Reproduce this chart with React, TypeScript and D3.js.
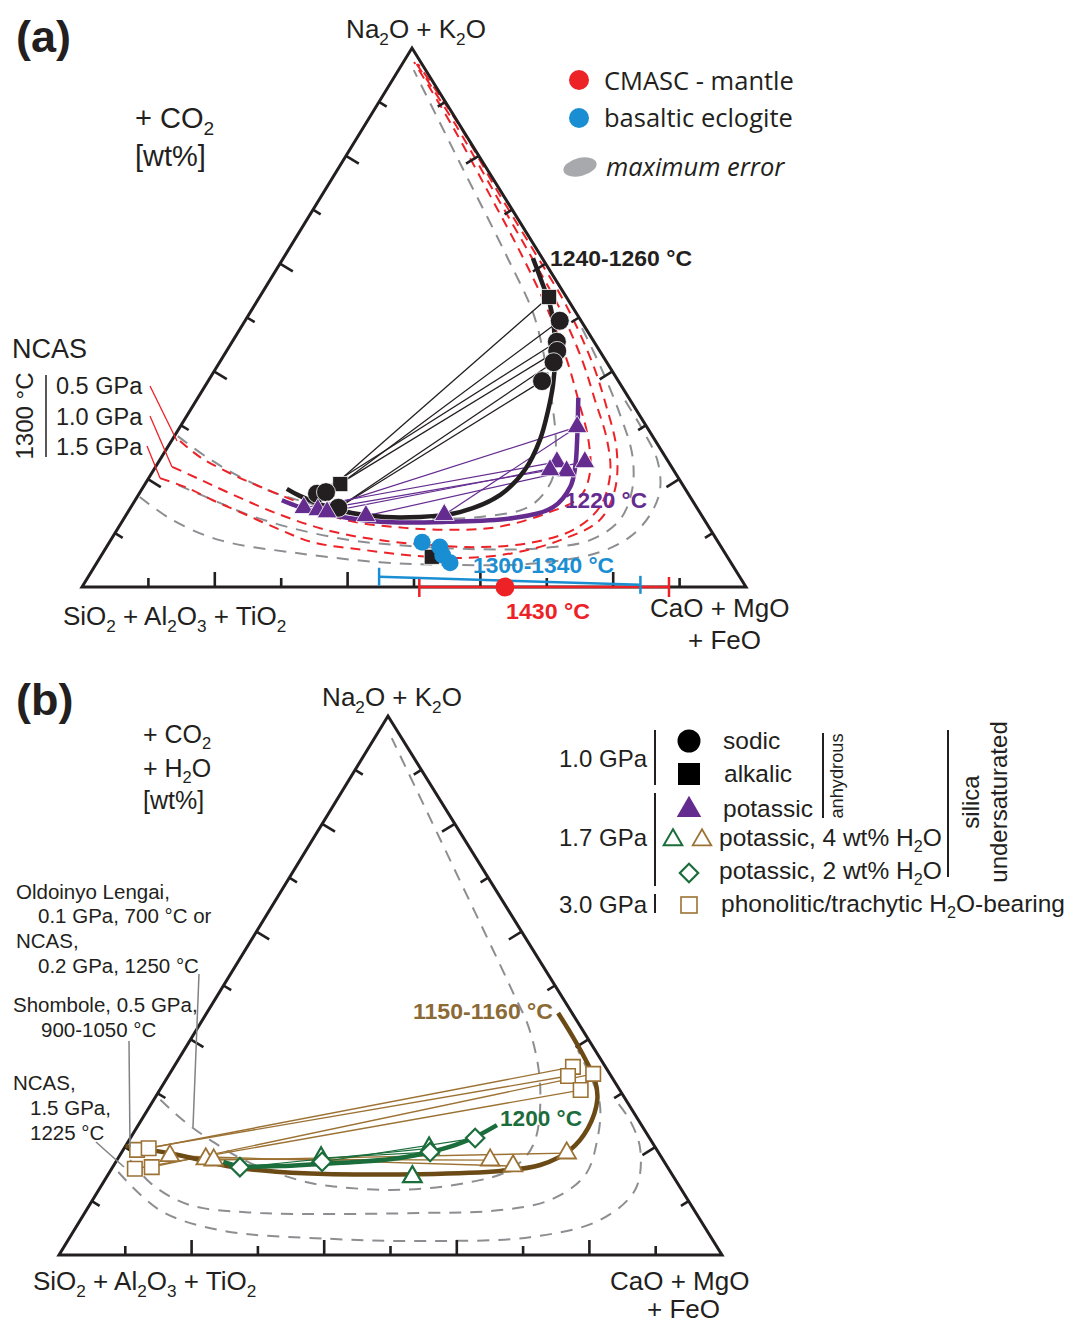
import React from 'react';
import * as d3 from 'd3';

// ternary point: [CaO+MgO+FeO wt%, Na2O+K2O wt%]; SiO2+Al2O3+TiO2 is the rest
type TP = [number, number];

const FONT = "'Liberation Sans', Arial, sans-serif";
const INK = '#231f20';
const RED = '#ec2227';
const BLUE = '#1a8ed2';
const PURPLE = '#652c90';
const GREY = '#8c8e91';
const BROWN_DARK = '#6b4a16';
const BROWN = '#9c7234';
const GREEN = '#1b6d3b';

// ---------- panel (a) ----------
const aBlackCurve: TP[] = [[37.6, 61.0], [40.8, 57.0], [44.5, 52.3], [47.4, 47.7], [50.3, 42.1], [52.3, 37.5], [53.9, 32.8], [55.4, 27.3], [55.9, 21.7], [54.5, 17.1], [50.0, 13.9], [44.4, 13.0], [36.8, 13.2], [30.1, 14.7], [24.4, 16.9], [21.8, 18.2]];
const aPurpleCurve: TP[] = [[57.3, 35.1], [61.0, 27.3], [63.2, 22.3], [64.3, 18.6], [63.6, 14.8], [58.6, 12.8], [49.0, 12.1], [38.9, 12.1], [30.7, 13.4], [25.5, 14.8], [22.1, 16.1]];

// NCAS 1300 °C, 0.5 / 1.0 / 1.5 GPa
const aNcas05: TP[] = [[1.3, 27.1], [5.8, 24.1], [11.8, 21.1], [17.6, 18.6], [25.1, 15.6], [33.7, 12.4], [41.9, 11.1], [49.7, 10.6], [57.0, 11.1], [63.2, 13.7], [66.7, 16.7], [66.0, 21.1], [62.7, 27.3], [57.5, 34.7], [52.1, 42.1], [44.6, 51.4], [35.6, 61.6], [25.3, 72.7], [13.1, 85.7], [1.6, 97.4]];
const aNcas10: TP[] = [[2.5, 22.3], [7.3, 20.2], [13.6, 17.4], [23.2, 13.4], [32.2, 10.4], [40.5, 8.7], [48.5, 7.8], [56.3, 7.4], [63.4, 8.2], [68.7, 10.6], [70.6, 14.8], [69.2, 20.8], [65.5, 27.3], [60.0, 34.7], [54.4, 42.1], [45.7, 52.3], [36.9, 61.6], [26.2, 72.7], [13.7, 85.7], [2.0, 97.2]];
const aNcas15: TP[] = [[1.7, 20.2], [6.7, 18.4], [11.7, 16.1], [16.9, 13.9], [24.6, 10.6], [30.6, 8.3], [38.9, 6.9], [47.0, 5.8], [54.7, 5.4], [61.8, 6.3], [67.7, 8.7], [71.8, 12.4], [71.3, 18.0], [67.9, 25.4], [62.1, 33.8], [56.1, 41.7], [46.9, 52.3], [37.8, 61.6], [26.8, 72.7], [14.2, 85.7], [2.4, 97.0]];

const aGrey1: TP[] = [[0.5, 28.0], [6.8, 24.1], [13.3, 20.6], [19.5, 17.8], [24.9, 16.0], [33.4, 13.9], [44.5, 12.8], [53.5, 13.0], [60.0, 15.0], [60.9, 19.8], [58.3, 26.3], [53.5, 34.7], [48.8, 42.1], [42.7, 50.8], [33.8, 61.0], [17.7, 78.8], [2.3, 95.9]];
const aGrey2: TP[] = [[5.1, 18.9], [13.0, 15.6], [18.1, 13.5], [26.3, 10.9], [36.0, 8.7], [45.6, 7.6], [56.4, 7.0], [65.4, 7.2], [72.2, 8.7], [74.8, 12.4], [73.9, 18.0], [70.7, 24.5], [65.2, 31.9], [57.5, 41.2], [50.1, 49.5]];
const aGrey3: TP[] = [[0.4, 16.7], [7.5, 12.4], [16.4, 8.7], [29.2, 6.3], [42.6, 4.6], [53.4, 4.1], [65.3, 4.3], [74.4, 6.3], [77.9, 9.3], [78.9, 13.4], [78.1, 18.0], [74.9, 23.6], [70.0, 29.1], [64.5, 34.7]];

const aSodic: TP[] = [[47.4, 49.4], [48.9, 45.5], [49.8, 43.8], [50.3, 41.7], [50.3, 38.2], [26.8, 17.3], [28.0, 17.6], [31.3, 14.7]];
const aAlkalic: TP[] = [[43.6, 53.8], [29.4, 19.1], [49.9, 5.6]];
const aPotassic: TP[] = [[59.8, 29.7], [60.0, 23.2], [64.2, 23.2], [62.3, 21.5], [59.7, 21.7], [26.1, 14.7], [28.4, 14.3], [30.0, 13.9], [36.2, 13.2], [47.9, 13.4]];
const aEclogite: TP[] = [[47.1, 8.3], [50.2, 7.4], [51.4, 5.9], [53.2, 4.5]];
const aEclogiteErr: TP[] = [[43.8, 1.9], [83.9, 0.4]];
const aMantle: TP = [63.7, 0];
const aMantleErr: TP[] = [[50.8, 0], [88.4, 0]];

const aBlackTies: [TP, TP][] = [
  [aAlkalic[0], aSodic[6]], [aSodic[0], aAlkalic[1]], [aSodic[1], aSodic[5]],
  [aSodic[2], aSodic[6]], [aSodic[3], aSodic[7]], [aSodic[4], aSodic[7]],
];
const aPurpleTies: [TP, TP][] = [
  [aPotassic[0], aPotassic[6]], [aPotassic[0], aPotassic[9]], [aPotassic[1], aPotassic[5]],
  [aPotassic[2], aPotassic[7]], [aPotassic[3], aPotassic[8]], [aPotassic[4], aPotassic[6]],
];

// ---------- panel (b) ----------
const bBrownCurve: TP[] = [[0, 20.2], [8.6, 18.6], [18.1, 16.3], [25.7, 15.4], [33.9, 15.0], [47.0, 15.0], [58.8, 15.6], [64.3, 16.7], [67.4, 19.5], [68.1, 23.6], [66.9, 28.8], [64.7, 32.5], [61.2, 36.5], [57.1, 40.8], [53.0, 44.9]];
const bGreenCurve: TP[] = [[16.2, 17.3], [19.1, 16.5], [25.1, 16.5], [31.0, 16.9], [36.8, 17.3], [42.5, 18.0], [46.5, 19.1], [49.6, 20.4], [51.9, 21.9], [54.1, 24.1]];

const bGrey1: TP[] = [[1.0, 28.8], [6.3, 25.0], [12.8, 21.0], [20.3, 17.1], [30.7, 13.5], [36.1, 12.6], [45.4, 12.1], [54.9, 13.4], [60.2, 15.8], [61.4, 20.4], [57.1, 31.2], [50.3, 41.7], [44.4, 48.6], [22.6, 73.3], [2.6, 95.9]];
const bGrey2: TP[] = [[2.0, 17.6], [7.1, 13.4], [12.7, 10.2], [17.4, 8.7], [26.5, 7.8], [37.6, 7.6], [50.6, 7.8], [61.4, 8.2], [69.0, 10.2], [72.0, 14.8], [70.6, 21.3], [67.8, 27.8], [63.5, 33.4], [59.4, 38.0]];
const bGrey3: TP[] = [[1.3, 15.4], [11.1, 8.3], [22.0, 4.6], [39.4, 3.0], [54.7, 2.6], [69.4, 3.3], [78.4, 6.5], [80.9, 12.1], [78.0, 19.5], [73.7, 25.0], [69.0, 29.3]];

const bPhonolitic: TP[] = [[60.2, 34.9], [60.3, 33.2], [63.9, 33.6], [63.5, 30.6], [2.1, 19.5], [3.7, 19.8], [3.5, 16.0], [5.9, 16.3]];
const bBrownTri: TP[] = [[7.6, 18.4], [13.3, 17.8], [14.6, 17.6], [56.3, 17.6], [60.3, 16.5], [67.2, 18.9]];
const bGreenTri: TP[] = [[30.6, 18.0], [46.0, 19.8], [46.1, 14.5]];
const bGreenDia: TP[] = [[19.2, 16.3], [31.1, 17.3], [46.5, 19.1], [52.0, 21.7]];

const bBrownTies: [TP, TP][] = [
  [bPhonolitic[0], bPhonolitic[5]], [bPhonolitic[1], bPhonolitic[4]], [bPhonolitic[2], bPhonolitic[7]], [bPhonolitic[3], bPhonolitic[6]],
  [bBrownTri[3], bBrownTri[1]], [bBrownTri[4], bBrownTri[0]], [bBrownTri[5], bBrownTri[2]],
];
const bGreenTies: [TP, TP][] = [
  [bGreenDia[3], bGreenDia[1]], [bGreenTri[1], bGreenDia[0]], [bGreenDia[2], bGreenTri[0]],
];

// frame of a ternary: apex, left and right corners in px
type Frame = { top: [number, number]; left: [number, number]; right: [number, number] };
const frameA: Frame = { top: [412, 48], left: [82, 587], right: [746, 587] };
const frameB: Frame = { top: [388, 716], left: [59, 1255], right: [722, 1255] };

const makeProj = (f: Frame) => {
  const xC = d3.scaleLinear().domain([0, 100]).range([f.left[0], f.right[0]]);
  const xA = d3.scaleLinear().domain([0, 100]).range([0, f.top[0] - f.left[0]]);
  const yA = d3.scaleLinear().domain([0, 100]).range([f.left[1], f.top[1]]);
  return (p: TP): [number, number] => [xC(p[0]) + xA(p[1]), yA(p[1])];
};

const SubText = ({ x, y, s, size, anchor = 'start', fill = INK, weight = 'normal', style = 'normal', family = FONT }: any) => {
  const parts = s.split(/(_.)/).filter((p: string) => p.length);
  const shift = size * 0.25;
  let low = false;
  return (
    <text x={x} y={y} fontSize={size} textAnchor={anchor} fill={fill} fontWeight={weight} fontStyle={style} fontFamily={family}>
      {parts.map((p: string, i: number) => {
        if (p[0] === '_') {
          const dy = low ? 0 : shift;
          low = true;
          return <tspan key={i} dy={dy} fontSize={size * 0.66}>{p[1]}</tspan>;
        }
        const dy = low ? -shift : 0;
        low = false;
        return <tspan key={i} dy={dy}>{p}</tspan>;
      })}
    </text>
  );
};

const Ternary = ({ frame }: { frame: Frame }) => {
  const proj = makeProj(frame);
  const pts = [frame.left, frame.right, frame.top];
  const ticks: string[] = [];
  const edges: [[number, number], [number, number], [number, number], (k: number) => TP][] = [
    [frame.left, frame.right, frame.top, (k) => [k, 0]],
    [frame.left, frame.top, frame.right, (k) => [0, k]],
    [frame.top, frame.right, frame.left, (k) => [100 - k, k]],
  ];
  edges.forEach(([P, Q, O, at]) => {
    const dx = Q[0] - P[0], dy = Q[1] - P[1];
    const len = Math.hypot(dx, dy);
    let nx = -dy / len, ny = dx / len;
    if (nx * (O[0] - P[0]) + ny * (O[1] - P[1]) < 0) { nx = -nx; ny = -ny; }
    d3.range(10, 100, 10).forEach((k) => {
      const [x, y] = proj(at(k));
      const l = k % 20 === 0 ? 15 : 9;
      ticks.push(`M${x},${y}L${x + nx * l},${y + ny * l}`);
    });
  });
  return (
    <g>
      <path d={ticks.join('')} stroke={INK} strokeWidth={2.6} fill="none" />
      <path d={`M${pts.map((p) => p.join(',')).join('L')}Z`} stroke={INK} strokeWidth={3} fill="none" strokeLinejoin="miter" />
    </g>
  );
};

const sym = (type: any, size: number) => d3.symbol().type(type).size(size)() as string;

const App = () => {
  const pa = makeProj(frameA);
  const pb = makeProj(frameB);
  const lineA = d3.line<TP>().x((p) => pa(p)[0]).y((p) => pa(p)[1]).curve(d3.curveCatmullRom.alpha(0.5));
  const lineB = d3.line<TP>().x((p) => pb(p)[0]).y((p) => pb(p)[1]).curve(d3.curveCatmullRom.alpha(0.5));
  const tri = sym(d3.symbolTriangle, 170);
  const triB = sym(d3.symbolTriangle, 150);
  const sq = sym(d3.symbolSquare, 230);
  const dia = sym(d3.symbolSquare, 170);
  const sqB = sym(d3.symbolSquare, 210);

  const tieLines = (ties: [TP, TP][], proj: (p: TP) => [number, number], color: string, w: number) =>
    ties.map(([p, q], i) => {
      const [x1, y1] = proj(p);
      const [x2, y2] = proj(q);
      return <line key={i} x1={x1} y1={y1} x2={x2} y2={y2} stroke={color} strokeWidth={w} />;
    });

  const errBar = (ends: TP[], proj: (p: TP) => [number, number], color: string, cap: number) => {
    const [a, b] = ends.map(proj);
    return (
      <g stroke={color} strokeWidth={2.5}>
        <line x1={a[0]} y1={a[1]} x2={b[0]} y2={b[1]} />
        <line x1={a[0]} y1={a[1] - cap} x2={a[0]} y2={a[1] + cap} />
        <line x1={b[0]} y1={b[1] - cap} x2={b[0]} y2={b[1] + cap} />
      </g>
    );
  };

  const t = (x: number, y: number, s: string, size = 20, extra: any = {}) => (
    <text x={x} y={y} fontSize={size} fontFamily={FONT} fill={INK} {...extra}>{s}</text>
  );
  const LEG = "'Open Sans', sans-serif";

  return (
    <svg width={1066} height={1324} style={{ position: 'absolute', left: 0, top: 0 }}>
      <rect width={1066} height={1324} fill="#fff" />

      {/* ================= (a) ================= */}
      <text x={16} y={52} fontSize={45} fontWeight="bold" fontFamily={FONT} fill={INK}>(a)</text>
      <SubText x={416} y={38} s="Na_2O + K_2O" size={26} anchor="middle" />
      <SubText x={135} y={128} s="+ CO_2" size={29} />
      {t(135, 166, '[wt%]', 29)}

      <g fill="none" strokeWidth={2}>
        <path d={lineA(aGrey1) as string} stroke={GREY} strokeDasharray="12 9" />
        <path d={lineA(aGrey2) as string} stroke={GREY} strokeDasharray="12 9" />
        <path d={lineA(aGrey3) as string} stroke={GREY} strokeDasharray="12 9" />
        <path d={lineA(aNcas05) as string} stroke={RED} strokeDasharray="10 7" />
        <path d={lineA(aNcas10) as string} stroke={RED} strokeDasharray="10 7" />
        <path d={lineA(aNcas15) as string} stroke={RED} strokeDasharray="10 7" />
      </g>

      <Ternary frame={frameA} />

      {tieLines(aBlackTies, pa, INK, 1.3)}
      {tieLines(aPurpleTies, pa, PURPLE, 1.2)}
      <path d={lineA(aBlackCurve) as string} fill="none" stroke={INK} strokeWidth={4.5} />
      <path d={lineA(aPurpleCurve) as string} fill="none" stroke={PURPLE} strokeWidth={4.5} />

      {errBar(aMantleErr, pa, RED, 10)}
      {errBar(aEclogiteErr, pa, BLUE, 9)}
      <circle cx={pa(aMantle)[0]} cy={pa(aMantle)[1]} r={9.5} fill={RED} />

      {aAlkalic.map((p, i) => <path key={i} d={sq} transform={`translate(${pa(p)})`} fill={INK} stroke="#fff" strokeWidth={0.8} />)}
      {aSodic.map((p, i) => <circle key={i} cx={pa(p)[0]} cy={pa(p)[1]} r={9.5} fill={INK} stroke="#fff" strokeWidth={0.8} />)}
      {aPotassic.map((p, i) => <path key={i} d={tri} transform={`translate(${pa(p)})`} fill={PURPLE} stroke="#fff" strokeWidth={0.8} />)}
      {aEclogite.map((p, i) => <circle key={i} cx={pa(p)[0]} cy={pa(p)[1]} r={8.5} fill={BLUE} />)}

      <text x={550} y={266} fontSize={22} fontWeight="bold" fontFamily={FONT} fill={INK} textLength={142} lengthAdjust="spacingAndGlyphs">1240-1260 °C</text>
      <text x={565} y={508} fontSize={22} fontWeight="bold" fontFamily={FONT} fill={PURPLE} textLength={82} lengthAdjust="spacingAndGlyphs">1220 °C</text>
      <text x={473} y={573} fontSize={22} fontWeight="bold" fontFamily={FONT} fill={BLUE} textLength={141} lengthAdjust="spacingAndGlyphs">1300-1340 °C</text>
      <text x={506} y={619} fontSize={22} fontWeight="bold" fontFamily={FONT} fill={RED} textLength={84} lengthAdjust="spacingAndGlyphs">1430 °C</text>

      {/* legend (a) */}
      <circle cx={579} cy={80} r={10} fill={RED} />
      <circle cx={579} cy={118} r={10} fill={BLUE} />
      <ellipse cx={580} cy={167} rx={17} ry={9} fill="#a7a9ac" transform="rotate(-14 580 167)" />
      {t(604, 90, 'CMASC - mantle', 25.5, { fontFamily: LEG })}
      {t(604, 127, 'basaltic eclogite', 25.5, { fontFamily: LEG })}
      {t(606, 176, 'maximum error', 25.5, { fontFamily: LEG, fontStyle: 'italic' })}

      {/* NCAS labels */}
      {t(12, 358, 'NCAS', 27)}
      <text transform="translate(33 416) rotate(-90)" textAnchor="middle" fontSize={24} fontFamily={FONT} fill={INK}>1300 °C</text>
      <line x1={46} y1={375} x2={46} y2={457} stroke={INK} strokeWidth={1.5} />
      {t(56, 394, '0.5 GPa', 23.5)}
      {t(56, 425, '1.0 GPa', 23.5)}
      {t(56, 455, '1.5 GPa', 23.5)}
      <g stroke={RED} strokeWidth={1.3}>
        <line x1={150} y1={386} x2={177} y2={441} />
        <line x1={150} y1={416} x2={172} y2={467} />
        <line x1={147} y1={446} x2={160} y2={478} />
      </g>

      <SubText x={63} y={625} s="SiO_2 + Al_2O_3 + TiO_2" size={26} />
      {t(650, 617, 'CaO + MgO', 26)}
      {t(688, 649, '+ FeO', 26)}

      {/* ================= (b) ================= */}
      <text x={16} y={715} fontSize={45} fontWeight="bold" fontFamily={FONT} fill={INK}>(b)</text>
      <SubText x={392} y={706} s="Na_2O + K_2O" size={26} anchor="middle" />
      <SubText x={143} y={743} s="+ CO_2" size={25} />
      <SubText x={143} y={777} s="+ H_2O" size={25} />
      {t(143, 809, '[wt%]', 25)}

      <g fill="none" strokeWidth={2}>
        <path d={lineB(bGrey1) as string} stroke={GREY} strokeDasharray="12 9" />
        <path d={lineB(bGrey2) as string} stroke={GREY} strokeDasharray="12 9" />
        <path d={lineB(bGrey3) as string} stroke={GREY} strokeDasharray="12 9" />
      </g>

      <Ternary frame={frameB} />

      {tieLines(bBrownTies, pb, BROWN, 1.4)}
      {tieLines(bGreenTies, pb, GREEN, 1.2)}
      <path d={lineB(bBrownCurve) as string} fill="none" stroke={BROWN_DARK} strokeWidth={4.5} />
      <path d={lineB(bGreenCurve) as string} fill="none" stroke={GREEN} strokeWidth={4.5} />

      {bPhonolitic.map((p, i) => <path key={i} d={sqB} transform={`translate(${pb(p)})`} fill="#fff" stroke={BROWN} strokeWidth={1.6} />)}
      {bBrownTri.map((p, i) => <path key={i} d={triB} transform={`translate(${pb(p)})`} fill="#fff" stroke={BROWN} strokeWidth={1.8} />)}
      {bGreenTri.map((p, i) => <path key={i} d={triB} transform={`translate(${pb(p)})`} fill="#fff" stroke={GREEN} strokeWidth={2.2} />)}
      {bGreenDia.map((p, i) => <path key={i} d={dia} transform={`translate(${pb(p)}) rotate(45)`} fill="#fff" stroke={GREEN} strokeWidth={2.2} />)}

      <text x={413} y={1019} fontSize={22} fontWeight="bold" fontFamily={FONT} fill="#8b6a36" textLength={140} lengthAdjust="spacingAndGlyphs">1150-1160 °C</text>
      <text x={500} y={1126} fontSize={22} fontWeight="bold" fontFamily={FONT} fill={GREEN} textLength={82} lengthAdjust="spacingAndGlyphs">1200 °C</text>

      {/* left annotations */}
      {t(16, 899, 'Oldoinyo Lengai,', 20.5)}
      {t(38, 923, '0.1 GPa, 700 °C or', 20.5)}
      {t(16, 948, 'NCAS,', 20.5)}
      {t(38, 973, '0.2 GPa, 1250 °C', 20.5)}
      {t(13, 1012, 'Shombole, 0.5 GPa,', 20.5)}
      {t(41, 1037, '900-1050 °C', 20.5)}
      {t(13, 1090, 'NCAS,', 20.5)}
      {t(30, 1115, '1.5 GPa,', 20.5)}
      {t(30, 1140, '1225 °C', 20.5)}
      <g stroke="#808285" strokeWidth={1.5}>
        <line x1={199} y1={974} x2={193} y2={1127} />
        <line x1={129} y1={1041} x2={130} y2={1147} />
        <line x1={96} y1={1142} x2={124} y2={1167} />
      </g>

      <SubText x={33} y={1290} s="SiO_2 + Al_2O_3 + TiO_2" size={26} />
      {t(610, 1290, 'CaO + MgO', 26)}
      {t(647, 1318, '+ FeO', 26)}

      {/* legend (b) */}
      {t(559, 767, '1.0 GPa', 24)}
      {t(559, 846, '1.7 GPa', 24)}
      {t(559, 913, '3.0 GPa', 24)}
      <g stroke={INK} strokeWidth={2}>
        <line x1={655} y1={730} x2={655} y2={785} />
        <line x1={655} y1={793} x2={655} y2={886} />
        <line x1={655} y1={894} x2={655} y2={913} />
        <line x1={823} y1={733} x2={823} y2={818} />
        <line x1={948} y1={730} x2={948} y2={877} />
      </g>
      <circle cx={689} cy={741} r={11.5} fill="#000" />
      <rect x={678} y={763} width={22} height={22} fill="#000" />
      <path d={sym(d3.symbolTriangle, 260)} transform="translate(689 810)" fill={PURPLE} />
      <path d={triB} transform="translate(673 840)" fill="#fff" stroke={GREEN} strokeWidth={2} />
      <path d={triB} transform="translate(702 840)" fill="#fff" stroke={BROWN} strokeWidth={1.8} />
      <path d={dia} transform="translate(689 873) rotate(45)" fill="#fff" stroke={GREEN} strokeWidth={2.2} />
      <rect x={681} y={897} width={16} height={16} fill="#fff" stroke={BROWN} strokeWidth={1.6} />
      {t(723, 749, 'sodic', 24.5)}
      {t(724, 782, 'alkalic', 24.5)}
      {t(723, 817, 'potassic', 24.5)}
      <SubText x={719} y={846} s="potassic, 4 wt% H_2O" size={24.5} />
      <SubText x={719} y={879} s="potassic, 2 wt% H_2O" size={24.5} />
      <SubText x={721} y={912} s="phonolitic/trachytic H_2O-bearing" size={24.5} />
      <text transform="translate(843 776) rotate(-90)" textAnchor="middle" fontSize={18} fontFamily={FONT} fill={INK} textLength={85} lengthAdjust="spacingAndGlyphs">anhydrous</text>
      <text transform="translate(979 802) rotate(-90)" textAnchor="middle" fontSize={24} fontFamily={FONT} fill={INK}>silica</text>
      <text transform="translate(1007 802) rotate(-90)" textAnchor="middle" fontSize={24} fontFamily={FONT} fill={INK}>undersaturated</text>
    </svg>
  );
};

export default App;
